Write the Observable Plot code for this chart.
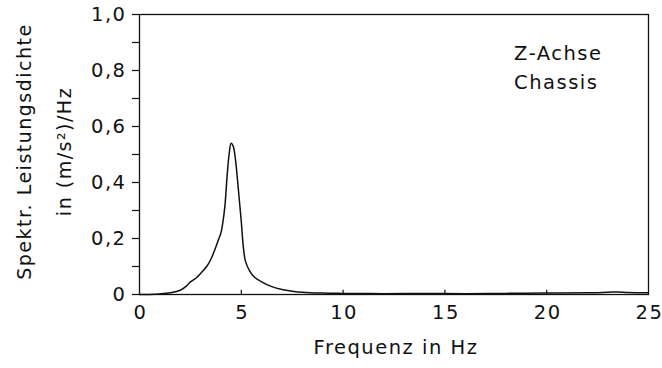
<!DOCTYPE html>
<html>
<head>
<meta charset="utf-8">
<script src="https://cdn.jsdelivr.net/npm/d3@7"></script>
<script src="https://cdn.jsdelivr.net/npm/@observablehq/plot@0.6"></script>
<style>
  html, body { margin: 0; padding: 0; background: #fff; }
  #chart svg { display: block; }
  #chart svg text { letter-spacing: 1.5px; }
  #chart svg g[aria-label="x-title"] text { letter-spacing: 3px; }
  #chart svg g[aria-label="y-title"] text { letter-spacing: 0.3px; }
  #chart svg g[aria-label="note"] text { letter-spacing: 2.3px; }
</style>
</head>
<body>
<div id="chart"></div>
<script>
// Frequency (Hz) and spectral power density ((m/s²)²/Hz)
const freq = [0, 0.5, 1.0, 1.5, 2.0, 2.3, 2.5, 2.8, 3.0, 3.3, 3.5, 3.7, 3.9, 4.0, 4.1, 4.2, 4.3, 4.4, 4.5, 4.6, 4.7, 4.8, 4.9, 5.0, 5.1, 5.2, 5.4, 5.6, 6.0, 6.5, 7.0, 7.5, 8.0, 9, 10, 12, 14, 16, 18, 20, 22, 23, 23.5, 24, 25];
const psd  = [0, 0, 0.002, 0.006, 0.015, 0.03, 0.045, 0.06, 0.075, 0.1, 0.125, 0.16, 0.2, 0.22, 0.26, 0.32, 0.42, 0.5, 0.54, 0.53, 0.49, 0.42, 0.34, 0.26, 0.17, 0.12, 0.085, 0.065, 0.045, 0.028, 0.018, 0.012, 0.008, 0.005, 0.004, 0.003, 0.004, 0.003, 0.004, 0.005, 0.006, 0.008, 0.009, 0.007, 0.006];

const xTicks = [0, 5, 10, 15, 20, 25];
const yTickLabels = [0, 0.2, 0.4, 0.6, 0.8, 1.0];
const yTicksMinor = [0, 0.1, 0.2, 0.3, 0.4, 0.5, 0.6, 0.7, 0.8, 0.9, 1.0];

const noteLines = ["Z-Achse", "Chassis"];
const noteX = [18.4, 18.4];
const noteY = [0.86, 0.757];

const xLabel = "Frequenz in Hz";
const yLabel = "Spektr. Leistungsdichte\nin (m/s²)/Hz";

const data = freq.map((f, i) => ({f, p: psd[i]}));
const notes = noteLines.map((t, i) => ({t, x: noteX[i], y: noteY[i]}));
const fmt = v => v === 0 ? "0" : v.toFixed(1).replace(".", ",");

const chart = Plot.plot({
  width: 662,
  height: 368,
  marginLeft: 139,
  marginRight: 14,
  marginTop: 14,
  marginBottom: 74,
  style: {fontFamily: "'DejaVu Sans', 'Liberation Sans', sans-serif", fontSize: "19.5px", color: "#111", background: "#fff"},
  x: {domain: [0, 25]},
  y: {domain: [0, 1]},
  marks: [
    Plot.frame({stroke: "#111", strokeWidth: 1.3}),
    Plot.axisY(yTicksMinor, {tickSize: 7, tickFormat: () => "", label: null, strokeWidth: 1.2}),
    Plot.axisY(yTickLabels, {tickSize: 7, tickPadding: 6, tickFormat: fmt, label: null, fontSize: 19.5}),
    Plot.ruleX(xTicks.slice(1, -1), {y1: 0, y2: 0.015, stroke: "#111", strokeWidth: 1.2}),
    Plot.axisX(xTicks, {tickSize: 0, tickPadding: 11, dx: 1, tickFormat: d => String(d), label: null, fontSize: 19.5}),
    Plot.text([xLabel], {frameAnchor: "bottom", dy: 59, dx: 2, fontSize: 19.5, fill: "#111", textAnchor: "middle", ariaLabel: "x-title"}),
    Plot.text([yLabel], {frameAnchor: "left", dx: -101, dy: -3, rotate: -90, fontSize: 19, lineHeight: 2.1, fill: "#111", textAnchor: "middle", ariaLabel: "y-title"}),
    Plot.line(data, {x: "f", y: "p", stroke: "#111", strokeWidth: 1.5, curve: "catmull-rom"}),
    Plot.text(notes, {x: "x", y: "y", text: "t", textAnchor: "start", fontSize: 19.5, fill: "#111", ariaLabel: "note"})
  ]
});
document.getElementById("chart").appendChild(chart);
</script>
</body>
</html>
